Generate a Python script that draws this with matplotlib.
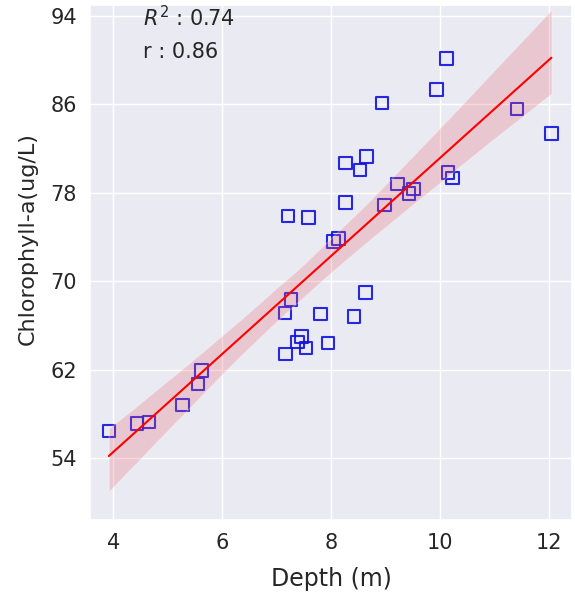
import numpy as np
import matplotlib
matplotlib.use("Agg")
import matplotlib.pyplot as plt
import seaborn as sns

# values
depth = [3.92, 4.44, 4.66, 5.27, 5.56, 5.62, 7.26, 7.15, 7.80, 7.46, 7.38, 7.54,
         7.16, 7.94, 8.63, 8.42, 7.21, 7.58, 8.04, 8.13, 10.12, 9.93, 8.93, 11.41,
         12.04, 8.65, 8.26, 8.53, 10.14, 10.23, 9.22, 9.51, 9.43, 8.26, 8.98]
chla = [56.43, 57.13, 57.27, 58.80, 60.69, 61.93, 68.32, 67.13, 67.04, 65.02, 64.48, 63.97,
        63.40, 64.42, 68.95, 66.82, 75.89, 75.74, 73.59, 73.88, 90.13, 87.33, 86.10, 85.59,
        83.37, 81.27, 80.67, 80.06, 79.83, 79.32, 78.80, 78.35, 77.94, 77.13, 76.88]
r2_text = "$R^2$ : 0.74"
r_text = "r : 0.86"
xticks = [4, 6, 8, 10, 12]
yticks = [54, 62, 70, 78, 86, 94]

sns.set_theme(style="darkgrid")

fig = plt.figure(figsize=(5.75, 5.97), dpi=100)
ax = fig.add_axes([0.157, 0.129, 0.838, 0.863])

sns.regplot(x=np.array(depth), y=np.array(chla), ax=ax, ci=95, n_boot=3000, seed=3,
            marker="s",
            scatter_kws=dict(s=82, facecolors="none", edgecolors="#1212dd",
                             linewidths=1.5, alpha=0.9),
            line_kws=dict(color="red", lw=1.5))
# band in pink
for coll in ax.collections[1:]:
    coll.set_facecolor("#e8606e")
    coll.set_alpha(0.25)

ax.set_xlim(3.58, 12.42)
ax.set_ylim(48.4, 95.0)
ax.set_xticks(xticks)
ax.set_yticks(yticks)
ax.tick_params(labelsize=15)
ax.set_xlabel("Depth (m)", fontsize=17, labelpad=10)
ax.set_ylabel("Chlorophyll-a(ug/L)", fontsize=16)
ax.yaxis.set_label_coords(-0.11, 0.546)

ax.text(0.109, 0.975, r2_text, transform=ax.transAxes, fontsize=15, va="center")
ax.text(0.109, 0.909, r_text, transform=ax.transAxes, fontsize=15, va="center")

fig.savefig("out.png", dpi=100)
